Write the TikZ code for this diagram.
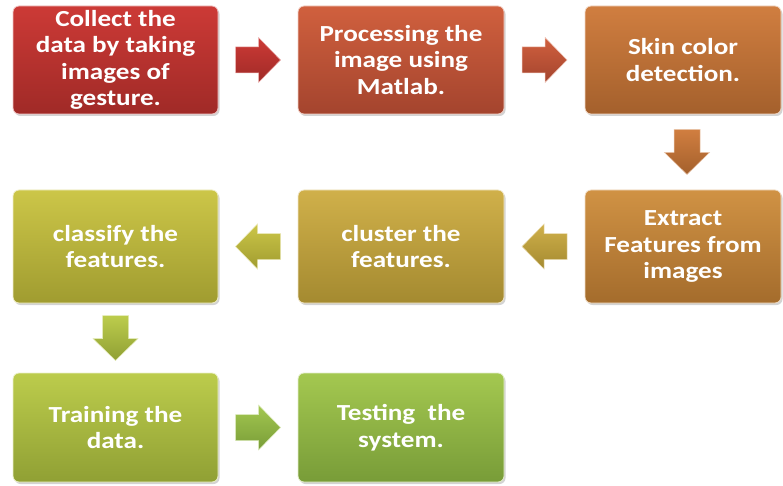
\documentclass[tikz,border=0pt]{standalone}
\usepackage{fontspec}
\setmainfont{Carlito}[FakeStretch=1.18]
\usetikzlibrary{calc,shadows}
\definecolor{c1t}{HTML}{CC3A36}\definecolor{c1b}{HTML}{A02A27}
\definecolor{c2t}{HTML}{D0603E}\definecolor{c2b}{HTML}{A4442E}
\definecolor{c3t}{HTML}{D07E40}\definecolor{c3b}{HTML}{A4602C}
\definecolor{c4t}{HTML}{D09244}\definecolor{c4b}{HTML}{A46C2C}
\definecolor{c5t}{HTML}{D0B04A}\definecolor{c5b}{HTML}{A48A30}
\definecolor{c6t}{HTML}{CCC648}\definecolor{c6b}{HTML}{A09C30}
\definecolor{c7t}{HTML}{BCCC4C}\definecolor{c7b}{HTML}{90A034}
\definecolor{c8t}{HTML}{A4C850}\definecolor{c8b}{HTML}{789C38}
\tikzset{
  stepbox/.style={rounded corners=6pt, draw=white!70!#1t, line width=0.8pt,
    top color=#1t, bottom color=#1b, text=white, align=center,
    font=\fontsize{23}{26.5}\selectfont\bfseries,
    drop shadow={opacity=0.35, shadow xshift=1.5pt, shadow yshift=-2pt},
    inner sep=2pt},
  pics/blockarrow/.style={code={
    \path[top color=#1t, bottom color=#1b, draw=white!60!#1t, line width=0.5pt]
      (-22.5,-13) -- (0.5,-13) -- (0.5,-22.5) -- (22.5,0) -- (0.5,22.5)
      -- (0.5,13) -- (-22.5,13) -- cycle;}}
}
\begin{document}
\begin{tikzpicture}[x=1pt,y=1pt]
\useasboundingbox (0,0) rectangle (783,485);
\node[stepbox=c1, minimum width=205pt, minimum height=108pt] (n1) at (115.5,425) {Collect the\\data by taking\\images of\\gesture.};
\node[stepbox=c2, minimum width=206pt, minimum height=108pt] (n2) at (401,425) {Processing the\\image using\\Matlab.};
\node[stepbox=c3, minimum width=196pt, minimum height=108pt] (n3) at (683,425) {Skin color\\detection.};
\node[stepbox=c4, minimum width=196pt, minimum height=113pt] (n4) at (683,238.5) {Extract\\Features from\\images};
\node[stepbox=c5, minimum width=206pt, minimum height=113pt] (n5) at (401,238.5) {cluster the\\features.};
\node[stepbox=c6, minimum width=205pt, minimum height=113pt] (n6) at (115.5,238.5) {classify the\\features.};
\node[stepbox=c7, minimum width=205pt, minimum height=109pt] (n7) at (115.5,57.5) {Training the\\data.};
\node[stepbox=c8, minimum width=206pt, minimum height=109pt] (n8) at (401,57.5) {Testing~ the\\system.};
\coordinate (a1) at ($(n1.east)!0.5!(n2.west)$);
\coordinate (a2) at ($(n2.east)!0.5!(n3.west)$);
\coordinate (a3) at ($(n3.south)!0.5!(n4.north)+(4,0)$);
\coordinate (a4) at ($(n4.west)!0.5!(n5.east)$);
\coordinate (a5) at ($(n5.west)!0.5!(n6.east)$);
\coordinate (a6) at ($(n6.south)!0.5!(n7.north)$);
\coordinate (a7) at ($(n7.east)!0.5!(n8.west)$);
\pic at (a1) {blockarrow=c1};
\pic at (a2) {blockarrow=c2};
\pic[rotate=-90] at (a3) {blockarrow=c3};
\pic[rotate=180] at (a4) {blockarrow=c5};
\pic[rotate=180] at (a5) {blockarrow=c6};
\pic[rotate=-90] at (a6) {blockarrow=c7};
\pic at (a7) {blockarrow=c8};
\end{tikzpicture}
\end{document}
